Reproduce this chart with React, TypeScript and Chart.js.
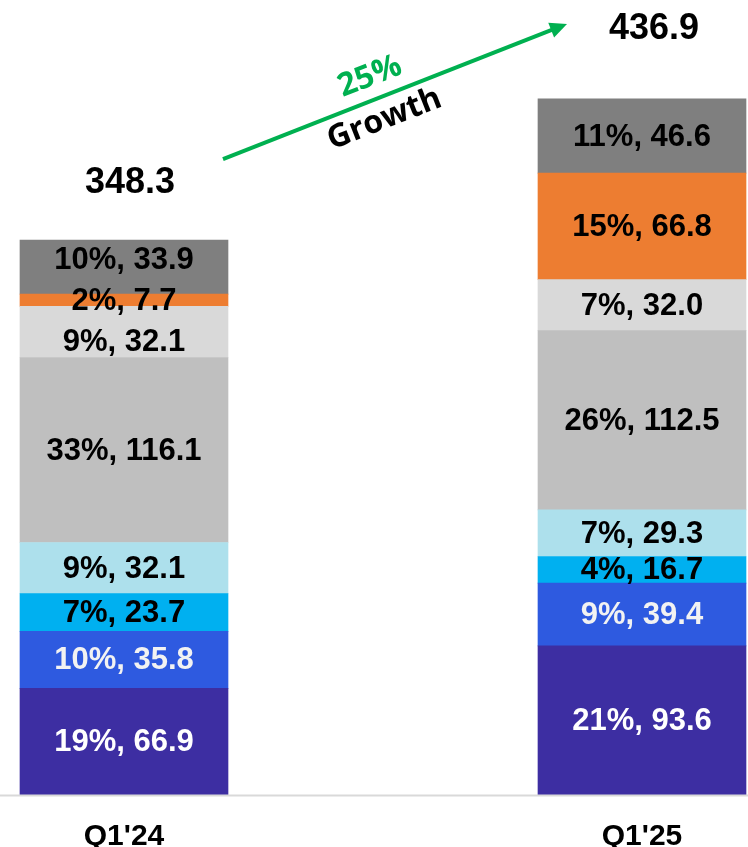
import React, { useEffect, useRef } from "react";
import { Chart, registerables } from "chart.js";

Chart.register(...registerables);

// ---- Data ----
const categories = ["Q1'24", "Q1'25"];
const seriesNames = ["Seg 1", "Seg 2", "Seg 3", "Seg 4", "Seg 5", "Seg 6", "Seg 7", "Seg 8"];
const seg1 = [66.9, 93.6];
const seg2 = [35.8, 39.4];
const seg3 = [23.7, 16.7];
const seg4 = [32.1, 29.3];
const seg5 = [116.1, 112.5];
const seg6 = [32.1, 32.0];
const seg7 = [7.7, 66.8];
const seg8 = [33.9, 46.6];
const pct1 = [19, 21];
const pct2 = [10, 9];
const pct3 = [7, 4];
const pct4 = [9, 7];
const pct5 = [33, 26];
const pct6 = [9, 7];
const pct7 = [2, 15];
const pct8 = [10, 11];
const totals = [348.3, 436.9];
const growthPct = "25%";
const growthWord = "Growth";

const seriesValues = [seg1, seg2, seg3, seg4, seg5, seg6, seg7, seg8];
const seriesPcts = [pct1, pct2, pct3, pct4, pct5, pct6, pct7, pct8];

// ---- Styles ----
const colors = ["#3d2ea2", "#2e5ae0", "#00b0f0", "#ade0ec", "#bfbfbf", "#d9d9d9", "#ed7d31", "#7f7f7f"];
const labelColors = ["#ffffff", "#f2f2f2", "#000000", "#000000", "#000000", "#000000", "#000000", "#000000"];
const FONT = "'Liberation Sans', Arial, sans-serif";

const labelsPlugin = {
  id: "segLabels",
  afterDatasetsDraw(chart: any) {
    const ctx = chart.ctx;
    const nudge: Record<string, number> = { "7-0": -8, "5-0": 10 };
    ctx.save();
    ctx.font = `bold 31px ${FONT}`;
    ctx.textAlign = "center";
    ctx.textBaseline = "middle";
    chart.data.datasets.forEach((ds: any, di: number) => {
      const meta = chart.getDatasetMeta(di);
      meta.data.forEach((bar: any, i: number) => {
        const p = bar.getProps(["x", "y", "base"], true);
        const cy = (p.y + p.base) / 2 + (nudge[`${di}-${i}`] || 0);
        ctx.fillStyle = labelColors[di];
        const v = ds.data[i] as number;
        ctx.fillText(`${seriesPcts[di][i]}%, ${v.toFixed(1)}`, p.x, cy + 1);
      });
    });

    // baseline
    const area = chart.chartArea;
    ctx.strokeStyle = "#d9d9d9";
    ctx.lineWidth = 2;
    ctx.beginPath();
    ctx.moveTo(0, area.bottom + 0.5);
    ctx.lineTo(chart.width, area.bottom + 0.5);
    ctx.stroke();

    // totals
    const y = chart.scales.y;
    const x = chart.scales.x;
    const totalOffsets = [58, 71];
    const totalShift = [6, 12];
    ctx.font = `bold 36px ${FONT}`;
    ctx.fillStyle = "#000000";
    totals.forEach((t, i) => {
      const px = x.getPixelForValue(i) + totalShift[i];
      const py = y.getPixelForValue(t) - totalOffsets[i];
      ctx.fillText(t.toFixed(1), px, py + 1);
    });

    // growth arrow
    const x0 = x.getPixelForValue(0) + 99;
    const y0 = y.getPixelForValue(totals[0]) - 81;
    const x1 = x.getPixelForValue(1) - 75;
    const y1 = y.getPixelForValue(totals[1]) - 75;
    const ang = Math.atan2(y1 - y0, x1 - x0);
    const green = "#00b050";
    const headLen = 17;
    const headW = 8;
    ctx.strokeStyle = green;
    ctx.fillStyle = green;
    ctx.lineWidth = 4;
    ctx.beginPath();
    ctx.moveTo(x0, y0);
    ctx.lineTo(x1 - Math.cos(ang) * (headLen - 2), y1 - Math.sin(ang) * (headLen - 2));
    ctx.stroke();
    ctx.save();
    ctx.translate(x1, y1);
    ctx.rotate(ang);
    ctx.beginPath();
    ctx.moveTo(0, 0);
    ctx.lineTo(-headLen, -headW);
    ctx.lineTo(-headLen, headW);
    ctx.closePath();
    ctx.fill();
    ctx.restore();

    // growth texts
    const tPct = 0.43;
    const mx = x0 + (x1 - x0) * tPct;
    const my = y0 + (y1 - y0) * tPct;
    ctx.save();
    ctx.translate(mx, my);
    ctx.rotate(ang);
    ctx.textAlign = "center";
    ctx.textBaseline = "middle";
    ctx.font = `bold 32px 'Open Sans', sans-serif`;
    ctx.fillStyle = green;
    ctx.fillText(growthPct, 8, -23);
    ctx.fillStyle = "#000000";
    ctx.fillText(growthWord, 6, 22);
    ctx.restore();
    ctx.restore();
  },
};

export default function App() {
  const ref = useRef<HTMLCanvasElement>(null);
  useEffect(() => {
    if (!ref.current) return;
    const chart = new Chart(ref.current, {
      type: "bar",
      data: {
        labels: categories,
        datasets: seriesValues.map((vals, i) => ({
          label: seriesNames[i],
          data: vals,
          backgroundColor: colors[i],
          borderWidth: 0,
          barThickness: 208,
          clip: false as any,
        })),
      },
      options: {
        animation: false,
        responsive: true,
        maintainAspectRatio: false,
        layout: { padding: { left: 124, right: 106, top: 0, bottom: 0 } },
        plugins: {
          legend: { display: false },
          tooltip: { enabled: false },
        },
        scales: {
          x: {
            stacked: true,
            offset: false,
            grid: { display: false, drawTicks: false },
            border: { display: false },
            ticks: {
              color: "#000000",
              font: { family: FONT, size: 30, weight: "bold" },
              padding: 24,
              maxRotation: 0,
              autoSkip: false,
            },
            afterFit: (scale: any) => {
              scale.height = 52;
            },
          },
          y: {
            stacked: true,
            display: false,
            min: 0,
            max: 499,
          },
        },
      },
      plugins: [labelsPlugin],
    });
    return () => chart.destroy();
  }, []);
  return (
    <div style={{ position: "absolute", left: 0, top: 0, width: 748, height: 847, background: "#ffffff" }}>
      <canvas ref={ref} />
    </div>
  );
}
